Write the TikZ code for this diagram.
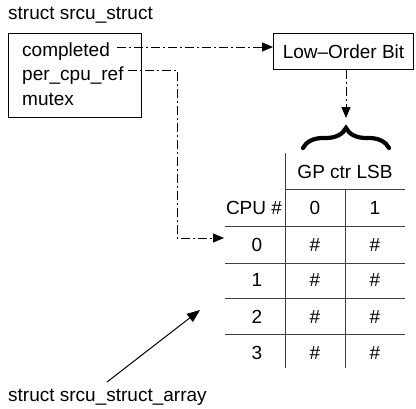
\documentclass[tikz,border=0pt]{standalone}
\usepackage{fontspec}
\setmainfont{Liberation Sans}
\usetikzlibrary{arrows.meta,decorations.pathreplacing}
\begin{document}
\begin{tikzpicture}[x=1pt,y=-1pt,
  every node/.style={font=\fontsize{19}{22}\selectfont, inner sep=0pt},
  box/.style={draw, line width=1pt},
  dd/.style={line width=1pt, dash pattern=on 9pt off 3pt on 2pt off 3pt, -{Triangle[length=11pt,width=9pt]}},
  grid/.style={line width=1pt, draw=black!75},
  solidarrow/.style={line width=1pt, -{Triangle[length=13pt,width=10pt]}}]
\useasboundingbox (0,0) rectangle (416,408);
% struct srcu_struct
\node[anchor=west] (title) at (8,15) {struct srcu\_struct};
\node[box, minimum width=133pt, minimum height=84pt, anchor=north west] (ss) at (8,33) {};
\node[anchor=west] (completed) at (22,52) {completed};
\node[anchor=west] (pcr) at (22,76) {per\_cpu\_ref};
\node[anchor=west] (mutex) at (22,99) {mutex};
% Low order bit
\node[box, minimum width=140pt, minimum height=36pt, anchor=north west] (lob) at (273,33) {Low--Order Bit};
% brace
\coordinate (bl) at (303,148);
\coordinate (br) at (389,148);
\draw[line width=4.2pt, line cap=round, decorate, decoration={brace, amplitude=20pt, aspect=0.5}] (bl) -- (br);
\coordinate (bt) at (346,118);
% arrows
\coordinate (c1) at (117,47);
\draw[dd] (c1) -- (lob.west |- c1);
\coordinate (p1) at (128,70);
\coordinate (p2) at (177,70);
\coordinate (p3) at (177,238);
\coordinate (p4) at (224,238);
\draw[dd] (p1) -- (p2) -- (p3) -- (p4);
\draw[dd] (lob.south -| bt) -- (bt);
% table lines
\draw[grid] (285,153) -- (285,368);
\draw[grid] (345,189) -- (345,368);
\draw[grid] (285,189) -- (405,189);
\foreach \yy in {226,263,298,334} \draw[grid] (225,\yy) -- (405,\yy);
% table text
\node (gp) at (345,172) {GP ctr LSB};
\node (cpu) at (254,208) {CPU \#};
\node (h0) at (315,208) {0};
\node (h1) at (375,208) {1};
\foreach \r/\yy in {0/245,1/280,2/317,3/353}{
  \node (r\r) at (257,\yy) {\r};
  \node (a\r) at (315,\yy) {\#};
  \node (b\r) at (375,\yy) {\#};
}
% array label
\node[anchor=west] (arr) at (8,397) {struct srcu\_struct\_array};
\coordinate (s1) at (107,382);
\coordinate (s2) at (200,310);
\draw[solidarrow] (s1) -- (s2);
\end{tikzpicture}
\end{document}
